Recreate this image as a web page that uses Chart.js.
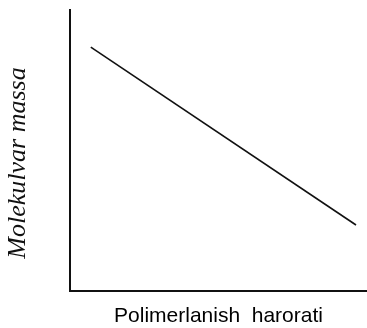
<!DOCTYPE html>
<html>
<head>
<meta charset="utf-8">
<script src="https://cdn.jsdelivr.net/npm/chart.js@4/dist/chart.umd.min.js"></script>
<style>
  html, body { margin: 0; padding: 0; background: #fff; }
  #wrap { width: 367px; height: 328px; position: relative; }
</style>
</head>
<body>
<div id="wrap"><canvas id="c"></canvas></div>
<script>
// Polymerisation temperature (relative units) vs molecular mass (relative units)
const temperature = [7, 96.3];
const molecularMass = [86.8, 23.5];
const xTitle = 'Polimerlanish  harorati';
const yTitle = 'Molekulvar massa';

const points = temperature.map((t, i) => ({ x: t, y: molecularMass[i] }));

// Rotated, italic serif title for the vertical axis
const yTitlePlugin = {
  id: 'yTitle',
  afterDraw(chart) {
    const ctx = chart.ctx;
    ctx.save();
    ctx.translate(18, 163);
    ctx.rotate(-Math.PI / 2);
    ctx.font = 'italic 26px "Liberation Serif", "Times New Roman", serif';
    ctx.fillStyle = '#111';
    ctx.textAlign = 'center';
    ctx.textBaseline = 'middle';
    ctx.fillText(yTitle, 0, 0);
    ctx.restore();
  }
};

new Chart(document.getElementById('c'), {
  type: 'line',
  data: {
    datasets: [{
      data: points,
      borderColor: '#111',
      borderWidth: 1.6,
      pointRadius: 0,
      fill: false,
      tension: 0
    }]
  },
  options: {
    responsive: true,
    maintainAspectRatio: false,
    animation: false,
    layout: { padding: { left: 0, top: 10, right: 0, bottom: 0 } },
    plugins: { legend: { display: false }, tooltip: { enabled: false } },
    scales: {
      x: {
        type: 'linear',
        min: 0,
        max: 100,
        grid: { display: false },
        ticks: { display: false },
        border: { display: true, color: '#111', width: 2 },
        title: {
          display: true,
          text: xTitle,
          color: '#000',
          font: { family: '"Liberation Sans", Arial, sans-serif', size: 21 },
          padding: { top: 0, bottom: -1 }
        },
        afterFit(scale) { scale.height = 37; }
      },
      y: {
        type: 'linear',
        min: 0,
        max: 100,
        grid: { display: false },
        ticks: { display: false },
        border: { display: true, color: '#111', width: 2 },
        afterFit(scale) { scale.width = 70; }
      }
    }
  },
  plugins: [yTitlePlugin]
});
</script>
</body>
</html>
